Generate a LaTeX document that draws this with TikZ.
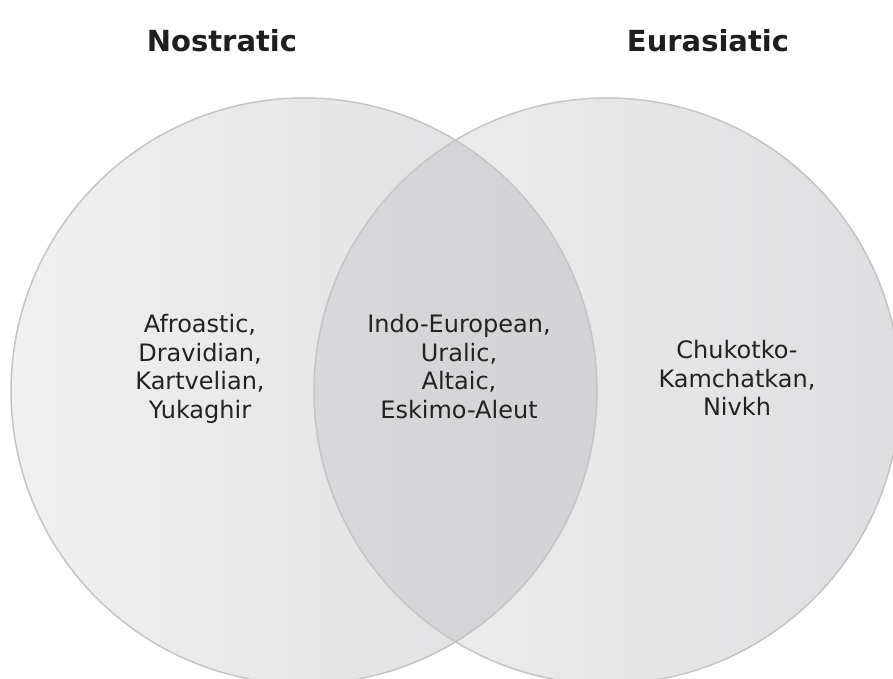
\documentclass[tikz,border=0pt]{standalone}
\usepackage{fontspec}
\setmainfont{DejaVu Sans}
\begin{document}
\begin{tikzpicture}[x=1pt,y=-1pt,
  setfill/.style={left color=lunelight,right color=lunedark},
  rim/.style={draw=rimgray,line width=1.5pt},
  setlabel/.style={align=center,inner sep=0pt,font=\fontsize{24}{28.5}\selectfont,text=labelink},
  settitle/.style={anchor=base,inner sep=0pt,font=\fontsize{29}{34}\selectfont\bfseries,text=titleink}]
  \definecolor{lunelight}{HTML}{F0F0F0}
  \definecolor{lunedark}{HTML}{DEDEE0}
  \definecolor{corelight}{HTML}{D8D8DA}
  \definecolor{coredark}{HTML}{CDCDCF}
  \definecolor{rimgray}{HTML}{C4C4C4}
  \definecolor{labelink}{HTML}{222222}
  \definecolor{titleink}{HTML}{1E1E1E}
  % page frame; the circles run past the lower and right edges
  \clip (0,0) rectangle (893,679);
  \fill[white] (0,0) rectangle (893,679);
  \coordinate (nc) at (304,391);
  \coordinate (ec) at (607,391);
  % the two sets
  \shade[setfill] (nc) circle[radius=293];
  \shade[setfill] (ec) circle[radius=293];
  % shared region
  \begin{scope}
    \clip (nc) circle[radius=293];
    \shade[left color=corelight,right color=coredark] (ec) circle[radius=293];
  \end{scope}
  \draw[rim] (nc) circle[radius=293];
  \draw[rim] (ec) circle[radius=293];
  % titles
  \node[settitle] (nostratic) at (222,52) {Nostratic};
  \node[settitle] (eurasiatic) at (708,52) {Eurasiatic};
  % members
  \node[setlabel] (nonly) at (200,369) {Afroastic,\\Dravidian,\\Kartvelian,\\Yukaghir};
  \node[setlabel] (both) at (459,366.5) {Indo-European,\\Uralic,\\Altaic,\\Eskimo-Aleut};
  \node[setlabel] (eonly) at (737,378) {Chukotko-\\Kamchatkan,\\Nivkh};
\end{tikzpicture}
\end{document}
